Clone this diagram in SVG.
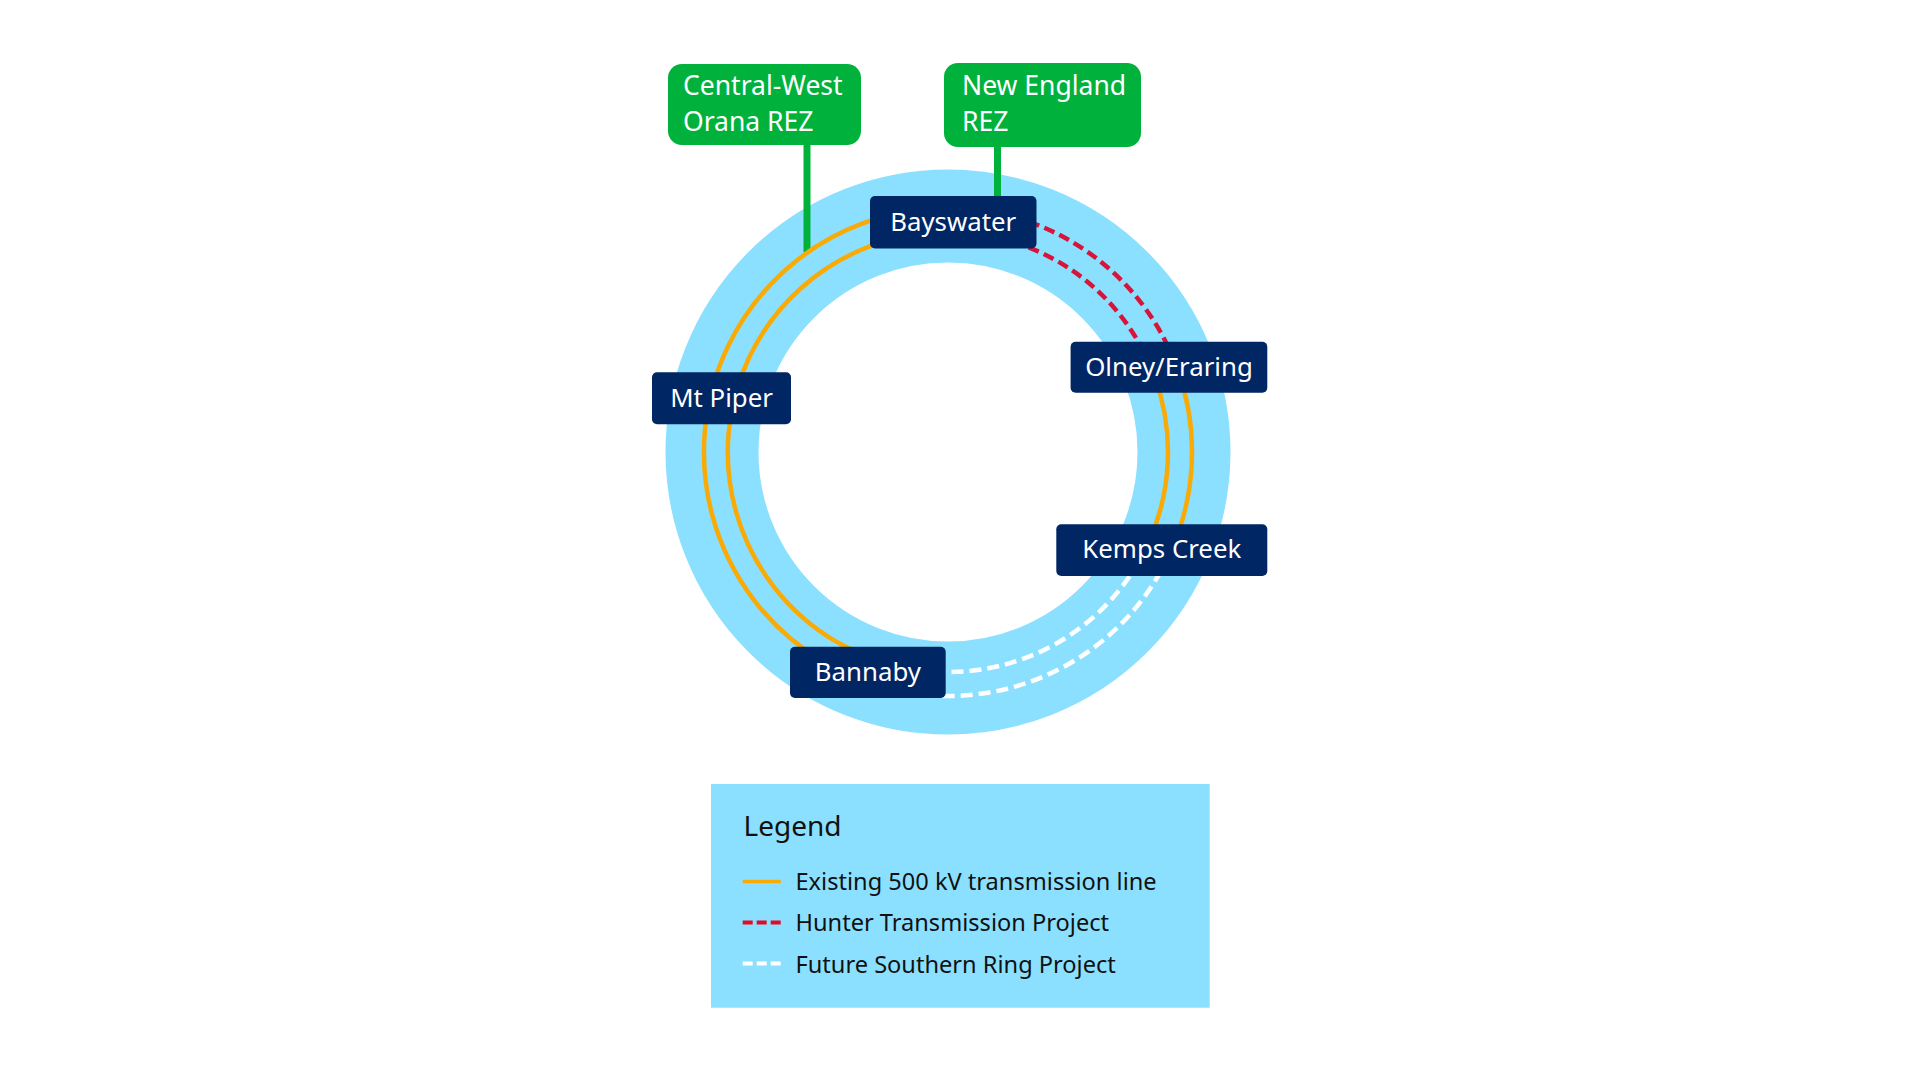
<svg xmlns="http://www.w3.org/2000/svg" width="1920" height="1080" viewBox="0 0 1920 1080">
<defs>
<style>
.rez rect{fill:#00B23C}
.rez text{font-family:"Noto Sans","Liberation Sans",sans-serif;font-size:26.5px;fill:#ffffff}
.node rect{fill:#002664}
.node text{font-family:"Noto Sans","Liberation Sans",sans-serif;font-size:25.8px;fill:#ffffff;text-anchor:middle}
.feed{stroke:#00B23C;stroke-width:7;fill:none}
.exist{stroke:#FAAA05;stroke-width:4.5;fill:none}
.hunter{stroke:#D7153A;stroke-width:4.5;fill:none;stroke-dasharray:11 5.5}
.future{stroke:#ffffff;stroke-width:4.5;fill:none;stroke-dasharray:12 6}
.legtext{font-family:"Noto Sans","Liberation Sans",sans-serif;font-size:23.6px;fill:#111111}
</style>
</defs>
<rect width="1920" height="1080" fill="#ffffff"/>
<circle id="ring" cx="948" cy="452" r="236" fill="none" stroke="#8CE0FF" stroke-width="93"/>
<g id="connectors">
<line class="feed" x1="807" y1="140" x2="807" y2="252"/>
<line class="feed" x1="997.5" y1="140" x2="997.5" y2="200"/>
<path class="hunter" d="M948,208 A244,244 0 0 1 1177.3,368.5"/>
<path class="hunter" d="M948,232 A220,220 0 0 1 1154.7,376.8"/>
<path class="exist" d="M1177.3,368.5 A244,244 0 0 1 1169.1,555.1"/>
<path class="exist" d="M1154.7,376.8 A220,220 0 0 1 1147.4,545"/>
<path class="future" d="M1169.1,555.1 A244,244 0 0 1 905.6,692.3"/>
<path class="future" d="M1147.4,545 A220,220 0 0 1 909.8,668.7"/>
<path class="exist" d="M905.6,692.3 A244,244 0 0 1 948,208"/>
<path class="exist" d="M909.8,668.7 A220,220 0 0 1 948,232"/>
</g>
<g id="rez-central-west" class="rez">
<rect x="668" y="64" width="193" height="81" rx="14"/>
<text x="683" y="95">Central-West</text>
<text x="683" y="131">Orana REZ</text>
</g>
<g id="rez-new-england" class="rez">
<rect x="944" y="63" width="197" height="84" rx="14"/>
<text x="962" y="95">New England</text>
<text x="962" y="131">REZ</text>
</g>
<g id="node-bayswater" class="node">
<rect x="870" y="196" width="166.5" height="52.5" rx="5"/>
<text x="953.2" y="230.5">Bayswater</text>
</g>
<g id="node-mt-piper" class="node">
<rect x="652" y="372.3" width="139" height="52" rx="5"/>
<text x="721.5" y="406.8">Mt Piper</text>
</g>
<g id="node-olney-eraring" class="node">
<rect x="1070.6" y="341.7" width="196.7" height="51" rx="5"/>
<text x="1169" y="375.8">Olney/Eraring</text>
</g>
<g id="node-kemps-creek" class="node">
<rect x="1056.3" y="524.3" width="211" height="51.7" rx="5"/>
<text x="1161.8" y="558">Kemps Creek</text>
</g>
<g id="node-bannaby" class="node">
<rect x="790" y="646.7" width="155.7" height="51.3" rx="5"/>
<text x="867.9" y="680.5">Bannaby</text>
</g>
<g id="legend">
<rect x="711" y="784" width="498.7" height="223.7" fill="#8CE0FF"/>
<text x="743.5" y="836" font-family="Noto Sans, Liberation Sans, sans-serif" font-size="28" fill="#111111">Legend</text>
<line x1="742.7" y1="881.5" x2="780.7" y2="881.5" stroke="#FAAA05" stroke-width="3.5"/>
<line x1="742.7" y1="922.5" x2="780.7" y2="922.5" stroke="#E10A28" stroke-width="4" stroke-dasharray="10 4"/>
<line x1="742.7" y1="963.5" x2="780.7" y2="963.5" stroke="#ffffff" stroke-width="4" stroke-dasharray="10 4"/>
<text class="legtext" x="795.5" y="890">Existing 500 kV transmission line</text>
<text class="legtext" x="795.5" y="931">Hunter Transmission Project</text>
<text class="legtext" x="795.5" y="972.5">Future Southern Ring Project</text>
</g>
</svg>
